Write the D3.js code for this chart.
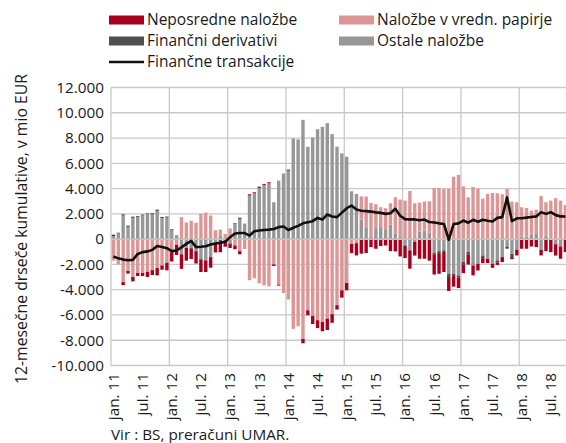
<!DOCTYPE html>
<html><head><meta charset="utf-8">
<script src="https://cdn.jsdelivr.net/npm/d3@7/dist/d3.min.js"></script>
<style>body{margin:0;background:#fff}svg{display:block}</style>
</head><body><svg id="c" width="566" height="443"></svg>
<script>
// Monthly categories: jan 2011 .. oct 2018
const startYear = 2011, nMonths = 94, axisMonths = 96;
const months = d3.range(nMonths);

const ostale = [250,450,1870,970,1680,1740,1870,2000,1950,2240,1660,1710,
  700,320,-1200,-700,-720,-950,-1600,-1680,-1420,-350,260,-100,
  -350,1200,1600,1230,3450,3630,4050,4290,4420,2920,4630,5200,
  5420,7970,7890,9440,7310,8050,8700,8890,9180,8310,7310,6790,
  6520,3790,3580,1550,950,160,870,950,790,1160,420,160,
  -500,-890,-200,600,680,500,-1100,-950,-890,-2740,-2740,-2870,
  -1810,-1000,-2080,-1950,-1290,-1550,-1950,-1680,-1420,-580,-1160,-840,
  210,210,370,470,-840,290,0,-400,-580,0];
const vrednostni = [-1700,-2000,-3400,-2520,-3000,-2680,-2680,-2600,-2450,-2290,-2080,-1870,
  -1030,-450,1740,1320,1450,1300,2000,2100,1870,700,500,400,
  850,-500,-950,-780,-3250,-3100,-3500,-3660,-3730,-2000,-3600,-4260,
  -4780,-7100,-6900,-7900,-5630,-6080,-6420,-6550,-6290,-5940,-5230,-4050,
  -3470,-370,-320,1840,2420,2710,1890,1580,1660,1680,2890,2970,
  3050,3810,2840,2290,2290,2500,4050,4050,3970,3970,4940,5080,
  4180,3310,4130,4000,3210,3580,3660,3630,3550,3970,2970,2920,
  2310,2260,1890,1870,3420,2630,3050,3240,3050,2710];
const derivativi = [0,60,100,100,100,80,80,50,100,100,100,80,
  80,0,0,0,0,0,0,0,0,0,-200,0,
  0,60,100,0,0,0,0,0,0,0,0,0,
  0,0,0,0,0,0,0,0,0,0,0,0,
  0,0,0,0,0,0,0,0,0,0,0,0,
  0,0,0,0,0,0,-100,-160,-130,-260,-180,-180,
  -180,-210,0,0,-210,0,0,-160,0,-180,-260,0,
  0,0,0,0,0,0,0,0,0,0];
const neposredne = [100,0,-240,-210,-340,-240,-240,-390,-390,-580,-340,-600,
  -740,-800,-1150,-1000,-850,-980,-1000,-920,-840,-700,-840,-500,
  -350,-300,-250,0,100,80,100,80,80,-130,-80,0,
  80,0,0,-340,-400,-640,-620,-740,-900,-680,-340,-580,
  -580,-740,-970,-1150,-1100,-630,-760,-550,-500,-950,-970,-1370,
  -1000,-1450,-1100,-1550,-1550,-1700,-1600,-1630,-1580,-1100,-840,-820,
  -700,-800,-790,-530,-400,-340,-320,-200,-400,0,-160,-450,
  -760,-760,-580,-630,-450,-950,-1030,-900,-970,-1030];
const transakcije = [-1370,-1520,-1620,-1670,-1640,-1170,-1030,-970,-850,-540,-630,-720,
  -950,-900,-650,-380,-140,-630,-600,-560,-420,-350,-280,-200,
  150,450,480,480,280,620,680,720,750,800,950,1000,
  720,900,1050,1250,1340,1420,1680,1550,1950,1790,1740,2100,
  2450,2650,2350,2250,2220,2180,2120,2080,2000,2050,2400,1850,
  1580,1560,1560,1500,1550,1350,1320,1250,1200,-50,1200,1250,
  1470,1300,1530,1380,1530,1450,1400,1680,1740,3300,1420,1650,
  1650,1700,1750,1800,2130,2000,2130,1900,1800,1790];

const yTicks = [-10000,-8000,-6000,-4000,-2000,0,2000,4000,6000,8000,10000,12000];
const xTickIdx = d3.range(0, nMonths, 6);
const xTickLabels = xTickIdx.map(i => (i % 12 === 0 ? "jan. " : "jul. ") + String((startYear + Math.floor(i/12)) % 100));

const seriesKeys = ["ostale","vredn","deriv","neposr"];
const colors = {ostale:"#979797", vredn:"#dc9695", deriv:"#4f4f4f", neposr:"#a6001e"};

const table = months.map(i => ({i, ostale: ostale[i], vredn: vrednostni[i], deriv: derivativi[i], neposr: neposredne[i]}));

const svg = d3.select("#c");
const font = "'Open Sans', sans-serif";
const left = 111, monthW = 4.86;
const x = d3.scaleBand().domain(d3.range(axisMonths)).range([left, left + axisMonths*monthW]).paddingInner(0.3).paddingOuter(0.15);
const y = d3.scaleLinear().domain([-10000, 12000]).range([365.5, 87.5]);
const right = 566;

// grid
const g = svg.append("g");
g.selectAll("line.h").data(yTicks).join("line")
  .attr("x1", left).attr("x2", right).attr("y1", d => y(d)).attr("y2", d => y(d))
  .attr("stroke", "#c9c9c9").attr("stroke-width", 1.3);
const vIdx = d3.range(12, axisMonths, 12);
g.selectAll("line.v").data([0, ...vIdx]).join("line")
  .attr("x1", d => left + d*monthW).attr("x2", d => left + d*monthW)
  .attr("y1", y(12000)).attr("y2", y(-10000))
  .attr("stroke", "#c9c9c9").attr("stroke-width", 1.3);

// bars
const stack = d3.stack().keys(seriesKeys).offset(d3.stackOffsetDiverging)(table);
svg.append("g").selectAll("g").data(stack).join("g")
  .attr("fill", d => colors[d.key])
  .selectAll("rect").data(d => d).join("rect")
  .attr("x", d => x(d.data.i)).attr("width", x.bandwidth())
  .attr("y", d => y(Math.max(d[0], d[1])))
  .attr("height", d => Math.abs(y(d[0]) - y(d[1])));

// zero line
svg.append("line").attr("x1", left).attr("x2", right).attr("y1", y(0)).attr("y2", y(0))
  .attr("stroke", "#c4c4c4").attr("stroke-width", 1.5);

// line
svg.append("path").datum(transakcije)
  .attr("fill", "none").attr("stroke", "#111").attr("stroke-width", 2.6).attr("stroke-linejoin", "round")
  .attr("d", d3.line().x((v, i) => x(i) + x.bandwidth()/2).y(v => y(v)));

// y axis labels
const fmt = v => d3.format(",")(v).replace(/,/g, ".").replace("−", "-");
svg.append("g").selectAll("text").data(yTicks).join("text")
  .attr("x", 104).attr("y", d => y(d)).attr("dy", "0.35em")
  .attr("text-anchor", "end").attr("font-family", font).attr("font-size", 15.3).attr("fill", "#1a1a1a")
  .text(d => fmt(d));

// x axis labels
svg.append("g").selectAll("text").data(xTickIdx).join("text")
  .attr("transform", d => `translate(${x(d) + x.bandwidth()/2},373) rotate(-90)`)
  .attr("dy", "0.35em").attr("text-anchor", "end")
  .attr("font-family", font).attr("font-size", 15.3).attr("fill", "#1a1a1a")
  .text((d, k) => xTickLabels[k]);

// y title
svg.append("text").attr("transform", "translate(21,229) rotate(-90)")
  .attr("text-anchor", "middle").attr("dy", "0.35em")
  .attr("font-family", font).attr("font-size", 15.8).attr("fill", "#1a1a1a")
  .text("12-mesečne drseče kumulative, v mio EUR");

// source
svg.append("text").attr("x", 111).attr("y", 440)
  .attr("font-family", font).attr("font-size", 15.3).attr("fill", "#1a1a1a")
  .text("Vir : BS, preračuni UMAR.");

// legend
const legend = [
  {name: "Neposredne naložbe", key: "neposr", x: 109, y: 20},
  {name: "Naložbe v vredn. papirje", key: "vredn", x: 339, y: 20},
  {name: "Finančni derivativi", key: "deriv", x: 109, y: 41},
  {name: "Ostale naložbe", key: "ostale", x: 339, y: 41},
  {name: "Finančne transakcije", key: "line", x: 109, y: 62}
];
const lg = svg.append("g").selectAll("g").data(legend).join("g")
  .attr("transform", d => `translate(${d.x},${d.y})`);
lg.filter(d => d.key !== "line").append("rect")
  .attr("x", 0).attr("y", -4.5).attr("width", 35).attr("height", 9).attr("fill", d => colors[d.key]);
lg.filter(d => d.key === "line").append("line")
  .attr("x1", 0).attr("x2", 35).attr("y1", 0).attr("y2", 0).attr("stroke", "#111").attr("stroke-width", 2.6);
lg.append("text").attr("x", 38).attr("dy", "0.35em")
  .attr("font-family", font).attr("font-size", 15.5).attr("fill", "#1a1a1a")
  .text(d => d.name);
</script></body></html>
